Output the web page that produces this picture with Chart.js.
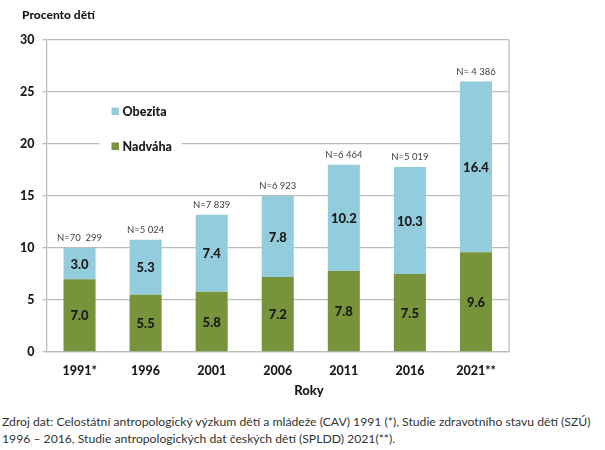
<!DOCTYPE html>
<html>
<head>
<meta charset="utf-8">
<script src="https://cdn.jsdelivr.net/npm/chart.js@4.4.1/dist/chart.umd.min.js"></script>
<style>
  html, body { margin: 0; padding: 0; background: #fff; width: 605px; height: 450px; overflow: hidden; }
  #wrap { position: relative; width: 605px; height: 404px; }
  #note { position: absolute; left: 2px; top: 413px; width: 603px; font-family: Lato, "Open Sans", sans-serif; font-size: 12.2px; line-height: 17px; color: #333; white-space: nowrap; }
</style>
</head>
<body>
<div id="wrap"><canvas id="c" width="605" height="404"></canvas></div>
<div id="note">Zdroj dat: Celostátní antropologický výzkum dětí a mládeže (CAV) 1991 (*), Studie zdravotního stavu dětí (SZÚ)<br>1996 – 2016, Studie antropologických dat českých dětí (SPLDD) 2021(**).</div>
<script>
const categories = ['1991*', '1996', '2001', '2006', '2011', '2016', '2021**'];
const nadvaha = [7.0, 5.5, 5.8, 7.2, 7.8, 7.5, 9.6];
const obezita = [3.0, 5.3, 7.4, 7.8, 10.2, 10.3, 16.4];
const sampleSizes = ['N=70  299', 'N=5 024', 'N=7 839', 'N=6 923', 'N=6 464', 'N=5 019', 'N= 4 386'];
const yTicks = [0, 5, 10, 15, 20, 25, 30];
const seriesNames = ['Nadváha', 'Obezita'];
const yTitle = 'Procento dětí';
const xTitle = 'Roky';

const GREEN = '#77933c';
const BLUE = '#93cddd';
const GRID = '#bdbdbd';
const FONT = 'Lato, "Open Sans", sans-serif';
const TXT = '#1a1a1a';

const labelsPlugin = {
  id: 'labelsPlugin',
  afterDatasetsDraw(chart) {
    const ctx = chart.ctx;
    ctx.save();
    ctx.textAlign = 'center';
    ctx.textBaseline = 'middle';
    chart.data.datasets.forEach((ds, di) => {
      const meta = chart.getDatasetMeta(di);
      meta.data.forEach((bar, i) => {
        const v = ds.data[i];
        const mid = (bar.y + bar.base) / 2;
        ctx.font = '900 13px ' + FONT;
        ctx.fillStyle = TXT;
        ctx.fillText(v.toFixed(1), bar.x, mid + 1);
      });
    });
    const topMeta = chart.getDatasetMeta(chart.data.datasets.length - 1);
    topMeta.data.forEach((bar, i) => {
      ctx.font = '9.5px ' + FONT;
      ctx.fillStyle = '#404040';
      ctx.fillText(sampleSizes[i], bar.x, bar.y - 10);
    });
    ctx.restore();
  },
  afterDraw(chart) {
    const ctx = chart.ctx;
    const a = chart.chartArea;
    ctx.save();
    ctx.strokeStyle = GRID;
    ctx.lineWidth = 1.3;
    ctx.beginPath();
    ctx.moveTo(a.right, a.top);
    ctx.lineTo(a.right, a.bottom);
    ctx.stroke();
    ctx.fillStyle = TXT;
    ctx.textBaseline = 'middle';
    // x title
    ctx.font = '900 13px ' + FONT;
    ctx.textAlign = 'center';
    ctx.fillText(xTitle, 309, 391);
    // y title
    ctx.font = '900 12px ' + FONT;
    ctx.textAlign = 'left';
    ctx.fillText(yTitle, 22, 15);
    // legend
    const lx = a.left + 53, ly = a.top + 55;
    ctx.fillStyle = '#fff';
    ctx.fillRect(lx, ly, 82, 70);
    const items = [
      { name: seriesNames[1], color: BLUE, y: a.top + 71 },
      { name: seriesNames[0], color: GREEN, y: a.top + 106 }
    ];
    items.forEach(it => {
      ctx.fillStyle = it.color;
      ctx.fillRect(a.left + 65, it.y - 3.5, 7.5, 7.5);
      ctx.fillStyle = TXT;
      ctx.font = '900 12.5px ' + FONT;
      ctx.fillText(it.name, a.left + 76, it.y + 0.5);
    });
    ctx.restore();
  }
};

new Chart(document.getElementById('c'), {
  type: 'bar',
  data: {
    labels: categories,
    datasets: [
      { label: seriesNames[0], data: nadvaha, backgroundColor: GREEN, barPercentage: 0.485, categoryPercentage: 1 },
      { label: seriesNames[1], data: obezita, backgroundColor: BLUE, barPercentage: 0.485, categoryPercentage: 1 }
    ]
  },
  options: {
    responsive: false,
    animation: false,
    devicePixelRatio: 1,
    layout: { padding: { top: 40, right: 96, left: 0, bottom: 0 } },
    plugins: { legend: { display: false }, tooltip: { enabled: false }, title: { display: false } },
    scales: {
      x: {
        stacked: true,
        grid: { display: false, drawTicks: false },
        border: { display: true, color: GRID, width: 1.3 },
        ticks: { padding: 11, color: TXT, font: { family: FONT, size: 12.5, weight: '900' } },
        title: { display: false },
        afterFit(scale) { scale.height = 52; }
      },
      y: {
        stacked: true,
        min: 0, max: 30,
        afterBuildTicks(scale) { scale.ticks = yTicks.map(v => ({ value: v })); },
        grid: { color: GRID, lineWidth: 1.3, drawTicks: true, tickLength: 4 },
        border: { display: true, color: GRID, width: 1.3 },
        ticks: { padding: 8, color: TXT, font: { family: FONT, size: 12.5, weight: '900' } },
        afterFit(scale) { scale.width = 46.5; }
      }
    }
  },
  plugins: [labelsPlugin]
});
</script>
</body>
</html>
